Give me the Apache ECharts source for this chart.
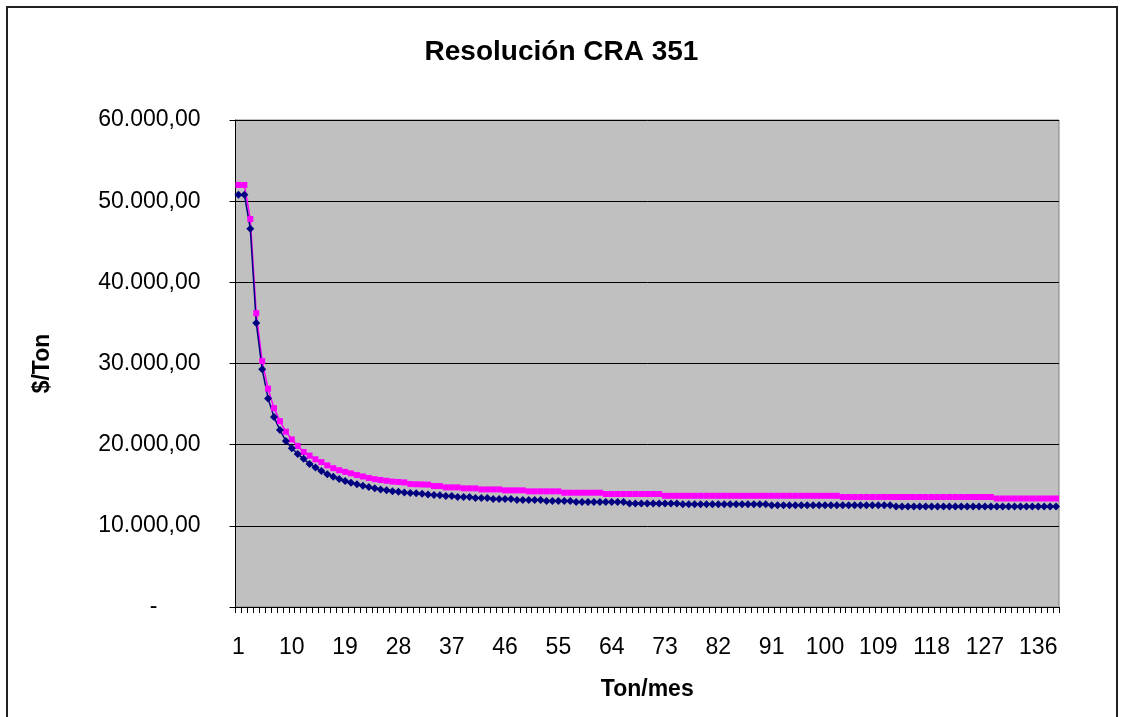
<!DOCTYPE html>
<html>
<head>
<meta charset="utf-8">
<script src="https://cdn.jsdelivr.net/npm/echarts@6/dist/echarts.min.js"></script>
<style>
html,body{margin:0;padding:0;background:#fff;}
#chart{width:1123px;height:717px;}
</style>
</head>
<body>
<div id="chart"></div>
<script>
// Categories: Ton/mes 1..139
const categories = [];
for (let i = 1; i <= 139; i++) categories.push(String(i));

// Magenta series (squares)
const seriesMagenta = [
  52000, 52000, 47800, 36200, 30300, 26900, 24500, 22900, 21600, 20650,
  19850, 19100, 18650, 18200, 17850, 17450, 17100, 16850, 16650, 16460,
  16250, 16080, 15900, 15750, 15650, 15550, 15450, 15400, 15350, 15150,
  15120, 15100, 15080, 14900, 14900, 14740, 14740, 14740, 14620, 14620,
  14620, 14490, 14490, 14490, 14490, 14370, 14370, 14370, 14370, 14250,
  14250, 14250, 14250, 14250, 14250, 14080, 14080, 14080, 14080, 14080,
  14080, 14080, 13920, 13920, 13920, 13920, 13920, 13920, 13920, 13920,
  13920, 13920, 13700, 13700, 13700, 13700, 13700, 13700, 13700, 13700,
  13700, 13700, 13700, 13700, 13700, 13700, 13700, 13700, 13700, 13700,
  13700, 13700, 13700, 13700, 13700, 13700, 13700, 13700, 13700, 13700,
  13700, 13700, 13550, 13550, 13550, 13550, 13550, 13550, 13550, 13550,
  13550, 13550, 13550, 13550, 13550, 13550, 13550, 13550, 13550, 13550,
  13550, 13550, 13550, 13550, 13550, 13550, 13550, 13550, 13370, 13370,
  13370, 13370, 13370, 13370, 13370, 13370, 13370, 13370, 13370
];

// Navy series (diamonds)
const seriesNavy = [
  50800, 50800, 46600, 35000, 29300, 25700, 23400, 21800, 20450, 19550,
  18840, 18250, 17610, 17200, 16750, 16340, 16050, 15760, 15520, 15310,
  15110, 14940, 14780, 14620, 14490, 14370, 14250, 14200, 14120, 14050,
  14000, 13950, 13850, 13800, 13780, 13670, 13670, 13550, 13550, 13550,
  13420, 13420, 13420, 13300, 13300, 13300, 13300, 13180, 13180, 13180,
  13180, 13180, 13050, 13050, 13050, 13050, 13050, 12930, 12930, 12930,
  12930, 12930, 12930, 12930, 12930, 12930, 12760, 12760, 12760, 12760,
  12760, 12760, 12760, 12760, 12760, 12650, 12650, 12650, 12650, 12650,
  12650, 12650, 12650, 12650, 12650, 12650, 12650, 12650, 12650, 12650,
  12530, 12530, 12530, 12530, 12530, 12530, 12530, 12530, 12530, 12530,
  12530, 12530, 12530, 12530, 12530, 12530, 12530, 12530, 12530, 12530,
  12530, 12370, 12370, 12370, 12370, 12370, 12370, 12370, 12370, 12370,
  12370, 12370, 12370, 12370, 12370, 12370, 12370, 12370, 12370, 12370,
  12370, 12370, 12370, 12370, 12370, 12370, 12370, 12370, 12370
];

const titleText = 'Resolución CRA 351';
const xName = 'Ton/mes';
const yName = '$/Ton';

function fmt(v) {
  if (v === 0) return '{dash|-}';
  const s = Math.round(v).toString().replace(/\B(?=(\d{3})+(?!\d))/g, '.');
  return s + ',00';
}

const FONT = '"Liberation Sans", Arial, sans-serif';
const LBL = 23;
const chart = echarts.init(document.getElementById('chart'), null, {renderer: 'canvas'});
chart.setOption({
  animation: false,
  backgroundColor: '#ffffff',
  graphic: [{
    type: 'rect', z: -10,
    shape: {x: 7, y: 7, width: 1110, height: 730},
    style: {fill: 'none', stroke: '#222', lineWidth: 2}
  }],
  title: {
    text: titleText, left: 'center', top: 33,
    textStyle: {fontFamily: FONT, fontSize: 28, fontWeight: 'bold', color: '#000'}
  },
  grid: {
    left: 235.5, right: 64, top: 120, bottom: 110,
    show: true, backgroundColor: '#c0c0c0', borderColor: '#808080', borderWidth: 1
  },
  xAxis: {
    type: 'category', data: categories, boundaryGap: true,
    name: xName, nameLocation: 'middle', nameGap: 71,
    nameTextStyle: {fontFamily: FONT, fontSize: LBL, fontWeight: 'bold', color: '#000'},
    axisLine: {lineStyle: {color: '#000', width: 1}},
    axisTick: {show: true, interval: 0, length: 6, lineStyle: {color: '#000'}},
    axisLabel: {interval: 8, margin: 29, fontFamily: FONT, fontSize: LBL, color: '#000'},
    splitLine: {show: false}
  },
  yAxis: {
    type: 'value', min: 0, max: 60000, interval: 10000,
    name: yName, nameLocation: 'middle', nameGap: 181, nameRotate: 90,
    nameTextStyle: {fontFamily: FONT, fontSize: LBL, fontWeight: 'bold', color: '#000'},
    axisLine: {show: true, lineStyle: {color: '#000', width: 1}},
    axisTick: {show: true, length: 6, lineStyle: {color: '#000'}},
    axisLabel: {
      margin: 35, fontFamily: FONT, fontSize: LBL, color: '#000',
      formatter: fmt,
      rich: {dash: {fontFamily: FONT, fontSize: LBL, color: '#000', padding: [0, 43, 0, 0]}}
    },
    splitLine: {show: true, lineStyle: {color: '#000', width: 1}}
  },
  series: [
    {
      name: 'Magenta', type: 'line', data: seriesMagenta,
      symbol: 'rect', symbolSize: 6, showSymbol: true, showAllSymbol: true,
      lineStyle: {color: '#ff00ff', width: 1.5},
      itemStyle: {color: '#ff00ff'}
    },
    {
      name: 'Navy', type: 'line', data: seriesNavy,
      symbol: 'diamond', symbolSize: 8, showSymbol: true, showAllSymbol: true,
      lineStyle: {color: '#000080', width: 1.5},
      itemStyle: {color: '#000080'}
    }
  ]
});
</script>
</body>
</html>
